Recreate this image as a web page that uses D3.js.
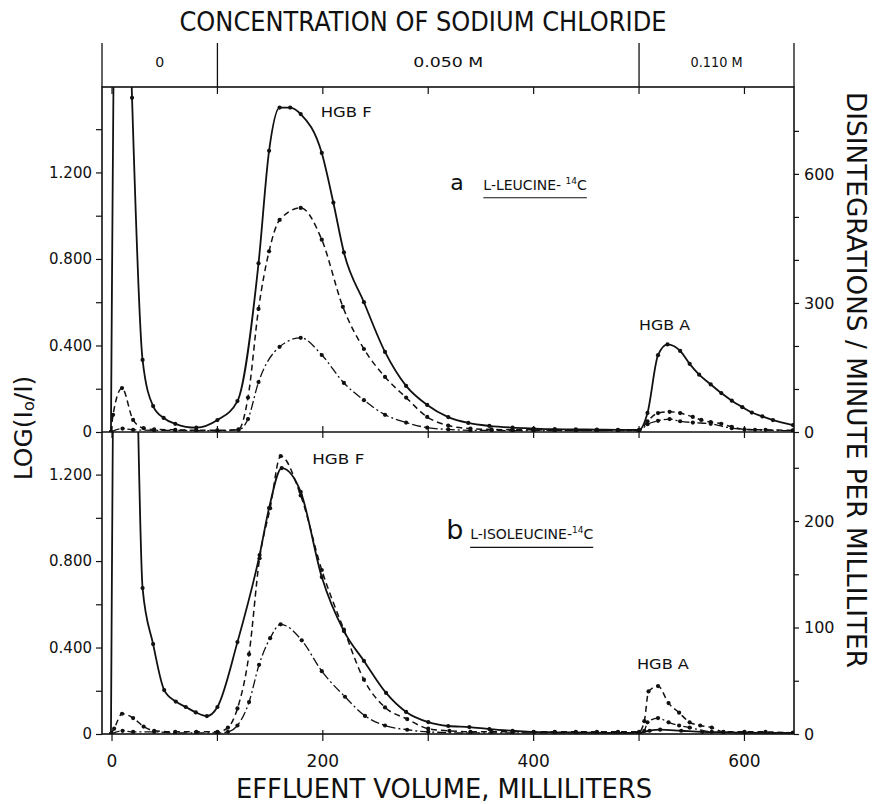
<!DOCTYPE html>
<html>
<head>
<meta charset="utf-8">
<script src="https://cdn.jsdelivr.net/npm/d3@7"></script>
<style>
  body { margin: 0; background: #fff; }
  text { font-family: 'DejaVu Sans', sans-serif; fill: #111; }
</style>
</head>
<body>
<div id="chart"></div>
<script>
// [effluent volume (mL), value].
// a: L-leucine-14C, b: L-isoleucine-14C
const leu_log = [[-1,0],[4,2.4],[14,2.4],[19,1.545],[29,0.333],[39,0.12],[49,0.065],[60,0.038],[80,0.02],[100,0.055],[119,0.143],[139,0.78],[149,1.3],[159,1.5],[169,1.5],[179,1.47],[199,1.29],[210,1.06],[220,0.83],[239,0.6],[259,0.37],[279,0.213],[299,0.125],[319,0.069],[338,0.042],[358,0.028],[380,0.02],[400,0.016],[420,0.013],[440,0.012],[460,0.011],[480,0.01],[500,0.01],[508,0.088],[518,0.355],[527,0.405],[539,0.375],[548,0.315],[557,0.265],[568,0.22],[578,0.18],[588,0.145],[598,0.115],[607,0.09],[617,0.072],[627,0.055],[646,0.032]];
const leu_dpm = [[-1,0],[1,40],[9.5,102],[20,28],[30,9],[40,6],[60,5],[80,4],[100,4],[120,6],[129,80],[139,286],[149,420],[159,493],[179,521],[199,447],[219,291],[239,193],[259,128],[279,80],[299,35],[319,15],[340,8],[360,6],[380,5],[400,5],[420,4],[440,4],[460,4],[480,4],[500,3],[508,25],[518,44],[529,47],[539,44],[551,35],[559,28],[568,23],[578,19],[588,12],[600,6],[620,5],[646,4]];
const leu_dpm2 = [[-1,0],[10,8],[20,5],[40,4],[60,4],[80,3],[100,3],[120,5],[129,30],[139,116],[159,198],[179,219],[199,179],[220,114],[239,74],[259,40],[279,22],[299,10],[319,6],[340,4],[360,4],[380,3],[400,3],[420,3],[440,3],[460,3],[480,3],[500,3],[508,18],[518,26],[529,30],[539,25],[551,22],[568,19],[588,9],[610,5],[646,3]];

const ile_log = [[-1,0],[3,2.2],[20,2.2],[29,0.675],[39,0.416],[49.5,0.203],[60.5,0.15],[70,0.125],[79.5,0.1],[90,0.083],[100,0.125],[119,0.425],[140,0.828],[149,1.045],[161,1.23],[179,1.12],[199,0.726],[220,0.476],[239,0.338],[260,0.19],[279,0.102],[300,0.055],[319,0.037],[339,0.032],[358,0.023],[380,0.015],[400,0.009],[420,0.008],[440,0.007],[460,0.006],[480,0.005],[500,0.005],[510,0.015],[520,0.02],[540,0.015],[560,0.01],[580,0.008],[600,0.006],[646,0.005]];
const ile_dpm = [[-1,0],[2,5],[9.5,19],[20,15],[30,7],[40,3],[60,2],[80,2],[100,2],[110,6],[119,24],[130,75],[140,165],[150,212],[160,261],[179,224],[199,154],[220,98],[239,51],[259,25],[280,14],[300,5],[320,3],[340,2],[360,2],[380,2],[400,2],[420,2],[440,2],[460,2],[480,2],[500,2],[505,12],[509,40],[518,45],[528,29],[538,20],[548,11],[558,8],[569,6],[580,2],[600,2],[620,2],[646,1]];
const ile_dpm2 = [[-1,0],[10,3],[20,2],[40,2],[60,1],[80,1],[100,1],[110,2],[119,8],[130,30],[139.5,65],[150,90],[160,103],[180,88],[199,59],[221,35],[240,17],[259,8],[280,4],[300,2],[340,1],[380,1],[420,1],[460,1],[500,1],[505,3],[508,11],[518,15],[528,11],[538,8],[548,6],[569,2],[600,1],[646,1]];

const x_domain = [-9.5, 647];
const x_ticks = [0, 100, 200, 300, 400, 500, 600];
const x_labels = [0, 200, 400, 600];
const salt_bounds = [100, 500];
const salt_labels = ['0', '0.050 M', '0.110 M'];

const a_log_max = 1.595, a_dpm_max = 802;
const b_log_max = 1.397, b_dpm_max = 283.6;
const a_log_ticks = [0, 0.2, 0.4, 0.6, 0.8, 1.0, 1.2, 1.4];
const a_dpm_ticks = [0, 100, 200, 300, 400, 500, 600, 700];
const a_dpm_labels = [0, 300, 600];
const b_log_ticks = [0, 0.2, 0.4, 0.6, 0.8, 1.0, 1.2];
const b_dpm_ticks = [0, 50, 100, 150, 200, 250];
const b_dpm_labels = [0, 100, 200];
const log_labels = [0, 0.4, 0.8, 1.2];

function ColumnPlotter() {
  this._width = 879;
  this._height = 804;
  this._left = 102;
  this._right = 794;
  this._band_top = 43;
  this._top = 87;
  this._mid = 432;
  this._bottom = 734;
  this._tick = 6;
  this._dot_r = 2.1;
  this._styles = {
    solid: {dash: null, width: 1.8},
    dashed: {dash: '6,4', width: 1.5},
    dashdot: {dash: '9,3,2,3', width: 1.3},
  };
}

ColumnPlotter.prototype._fmt_log = function(v) {
  if(!log_labels.some(l => Math.abs(l - v) < 1e-6)) return '';
  return v === 0 ? '0' : d3.format('.3f')(v);
}

ColumnPlotter.prototype._plot_panel = function(svg, x, panel) {
  let self = this;
  let id = 'clip_' + panel.name;
  svg.append('clipPath').attr('id', id)
    .append('rect')
    .attr('x', this._left)
    .attr('y', panel.top)
    .attr('width', this._right - this._left)
    .attr('height', panel.bottom - panel.top);

  let g = svg.append('svg:g')
    .attr('class', 'panel_' + panel.name)
    .attr('clip-path', 'url(#' + id + ')');

  for(let s of panel.series) {
    let y = s.axis === 'left' ? panel.y_left : panel.y_right;
    let st = this._styles[s.style];
    let line = d3.line()
      .x(d => x(d[0]))
      .y(d => y(d[1]))
      .curve(d3.curveMonotoneX);
    g.append('path')
      .datum(s.data)
      .attr('d', line)
      .attr('fill', 'none')
      .attr('stroke', '#111')
      .attr('stroke-width', st.width)
      .attr('stroke-dasharray', st.dash);
    g.selectAll(null)
      .data(s.data.filter(d => d[0] > x_domain[0] + 2 && y(d[1]) > panel.top))
      .join('circle')
      .attr('cx', d => x(d[0]))
      .attr('cy', d => y(d[1]))
      .attr('r', self._dot_r)
      .attr('fill', '#111');
  }

  // left axis
  svg.append('svg:g')
    .attr('transform', 'translate(' + this._left + ',0)')
    .call(d3.axisLeft(panel.y_left)
      .tickValues(panel.log_ticks)
      .tickSizeOuter(0)
      .tickSize(this._tick)
      .tickPadding(4)
      .tickFormat(v => self._fmt_log(v)))
    .call(a => a.select('.domain').remove())
    .call(a => a.selectAll('line').attr('stroke', '#111').attr('stroke-width', 1.2))
    .call(a => a.selectAll('text').attr('font-size', 15).attr('fill', '#111')
      .attr('font-family', "'DejaVu Sans', sans-serif"));

  // right axis
  svg.append('svg:g')
    .attr('transform', 'translate(' + this._right + ',0)')
    .call(d3.axisRight(panel.y_right)
      .tickValues(panel.dpm_ticks)
      .tickSizeOuter(0)
      .tickSize(5)
      .tickPadding(5)
      .tickFormat(v => panel.dpm_labels.indexOf(v) > -1 ? String(v) : ''))
    .call(a => a.select('.domain').remove())
    .call(a => a.selectAll('line').attr('stroke', '#111').attr('stroke-width', 1.2))
    .call(a => a.selectAll('text').attr('font-size', 16).attr('fill', '#111')
      .attr('font-family', "'DejaVu Sans', sans-serif"));

  // annotations
  let ann = svg.append('svg:g').attr('class', 'notes_' + panel.name);
  for(let n of panel.notes) {
    ann.append('text')
      .attr('x', x(n.vol))
      .attr('y', panel.y_left(n.val))
      .attr('font-size', 14)
      .attr('textLength', n.w)
      .attr('lengthAdjust', 'spacingAndGlyphs')
      .text(n.text);
  }
  let lab = ann.append('text')
    .attr('x', x(panel.tag.vol))
    .attr('y', panel.y_left(panel.tag.val))
    .attr('font-size', panel.tag.size);
  lab.append('tspan').text(panel.tag.letter);
  let tx = x(panel.tag.vol) + panel.tag.gap;
  let t2 = ann.append('text')
    .attr('x', tx)
    .attr('y', panel.y_left(panel.tag.val))
    .attr('font-size', 14);
  t2.append('tspan').text(panel.tag.text);
  t2.append('tspan').attr('font-size', 9).attr('dy', -6).text('14');
  t2.append('tspan').attr('dy', 6).text('C');
  let tw = t2.node().getComputedTextLength();
  ann.append('line')
    .attr('x1', tx).attr('x2', tx + tw)
    .attr('y1', panel.y_left(panel.tag.val) + 8)
    .attr('y2', panel.y_left(panel.tag.val) + 8)
    .attr('stroke', '#111')
    .attr('stroke-width', 1.2);
}

ColumnPlotter.prototype._add_frame = function(svg, x) {
  let fr = svg.append('svg:g').attr('class', 'frame')
    .attr('stroke', '#111')
    .attr('fill', 'none');
  fr.append('rect')
    .attr('x', this._left).attr('y', this._top)
    .attr('width', this._right - this._left)
    .attr('height', this._bottom - this._top)
    .attr('stroke-width', 1.6);
  fr.append('line')
    .attr('x1', this._left).attr('x2', this._right)
    .attr('y1', this._mid).attr('y2', this._mid)
    .attr('stroke-width', 1.6);

  // top ticks point into panel a, mid ticks cross, bottom ticks cross
  let tick_rows = [
    {y: this._top, up: 0, down: this._tick + 1},
    {y: this._mid, up: this._tick, down: this._tick},
    {y: this._bottom, up: this._tick - 2, down: this._tick + 1},
  ];
  for(let r of tick_rows) {
    fr.selectAll(null)
      .data(x_ticks)
      .join('line')
      .attr('x1', d => x(d)).attr('x2', d => x(d))
      .attr('y1', r.y - r.up).attr('y2', r.y + r.down)
      .attr('stroke-width', 1.2);
  }

  svg.append('svg:g')
    .selectAll('text')
    .data(x_labels)
    .join('text')
    .attr('x', d => x(d))
    .attr('y', this._bottom + 33)
    .attr('text-anchor', 'middle')
    .attr('font-size', 17)
    .text(d => d);
}

ColumnPlotter.prototype._add_salt_band = function(svg, x) {
  let edges = [x_domain[0]].concat(salt_bounds, [x_domain[1]]);
  let band = svg.append('svg:g').attr('class', 'salt');
  band.selectAll('line')
    .data(edges)
    .join('line')
    .attr('x1', d => x(d)).attr('x2', d => x(d))
    .attr('y1', this._band_top).attr('y2', this._top)
    .attr('stroke', '#111')
    .attr('stroke-width', 1.3);
  band.selectAll('text')
    .data(salt_labels)
    .join('text')
    .attr('x', (d, i) => 0.5 * (x(edges[i]) + x(edges[i + 1])) + (i === 1 ? 20 : 0))
    .attr('y', this._band_top + 24)
    .attr('text-anchor', 'middle')
    .attr('font-size', 14)
    .attr('textLength', (d, i) => [9, 70, 52][i])
    .attr('lengthAdjust', 'spacingAndGlyphs')
    .text(d => d);

  svg.append('text')
    .attr('x', 423)
    .attr('y', 31)
    .attr('text-anchor', 'middle')
    .attr('font-size', 26)
    .attr('textLength', 487)
    .attr('lengthAdjust', 'spacingAndGlyphs')
    .text('CONCENTRATION OF SODIUM CHLORIDE');
}

ColumnPlotter.prototype._add_titles = function(svg) {
  svg.append('text')
    .attr('x', 444)
    .attr('y', 798)
    .attr('text-anchor', 'middle')
    .attr('font-size', 26)
    .attr('textLength', 416)
    .attr('lengthAdjust', 'spacingAndGlyphs')
    .text('EFFLUENT VOLUME, MILLILITERS');

  svg.append('text')
    .attr('transform', 'translate(847,380) rotate(90)')
    .attr('text-anchor', 'middle')
    .attr('font-size', 27)
    .attr('textLength', 576)
    .attr('lengthAdjust', 'spacingAndGlyphs')
    .text('DISINTEGRATIONS / MINUTE  PER MILLILITER');

  let yl = svg.append('text')
    .attr('transform', 'translate(32,428) rotate(-90)')
    .attr('text-anchor', 'middle')
    .attr('font-size', 25);
  yl.append('tspan').text('LOG(I');
  yl.append('tspan').attr('font-size', 16).attr('dy', 2).text('o');
  yl.append('tspan').attr('dy', -2).text('/I)');
}

ColumnPlotter.prototype.plot = function(container) {
  let svg = d3.select(container).append('svg:svg')
    .attr('width', this._width)
    .attr('height', this._height);

  let x = d3.scaleLinear().domain(x_domain).range([this._left, this._right]);

  let panels = [
    {
      name: 'a', top: this._top, bottom: this._mid,
      y_left: d3.scaleLinear().domain([0, a_log_max]).range([this._mid, this._top]),
      y_right: d3.scaleLinear().domain([0, a_dpm_max]).range([this._mid, this._top]),
      log_ticks: a_log_ticks, dpm_ticks: a_dpm_ticks, dpm_labels: a_dpm_labels,
      series: [
        {data: leu_log, axis: 'left', style: 'solid'},
        {data: leu_dpm, axis: 'right', style: 'dashed'},
        {data: leu_dpm2, axis: 'right', style: 'dashdot'},
      ],
      notes: [
        {text: 'HGB F', vol: 198, val: 1.455, w: 51},
        {text: 'HGB A', vol: 500, val: 0.47, w: 51},
      ],
      tag: {letter: 'a', vol: 321, val: 1.12, size: 22, gap: 33, text: 'L-LEUCINE- '},
    },
    {
      name: 'b', top: this._mid, bottom: this._bottom,
      y_left: d3.scaleLinear().domain([0, b_log_max]).range([this._bottom, this._mid]),
      y_right: d3.scaleLinear().domain([0, b_dpm_max]).range([this._bottom, this._mid]),
      log_ticks: b_log_ticks, dpm_ticks: b_dpm_ticks, dpm_labels: b_dpm_labels,
      series: [
        {data: ile_log, axis: 'left', style: 'solid'},
        {data: ile_dpm, axis: 'right', style: 'dashed'},
        {data: ile_dpm2, axis: 'right', style: 'dashdot'},
      ],
      notes: [
        {text: 'HGB F', vol: 190, val: 1.25, w: 52},
        {text: 'HGB A', vol: 498, val: 0.3, w: 52},
      ],
      tag: {letter: 'b', vol: 317, val: 0.9, size: 27, gap: 24, text: 'L-ISOLEUCINE-'},
    },
  ];

  this._add_salt_band(svg, x);
  for(let p of panels) {
    this._plot_panel(svg, x, p);
  }
  this._add_frame(svg, x);
  this._add_titles(svg);
}

let plotter = new ColumnPlotter();
plotter.plot('#chart');
</script>
</body>
</html>
